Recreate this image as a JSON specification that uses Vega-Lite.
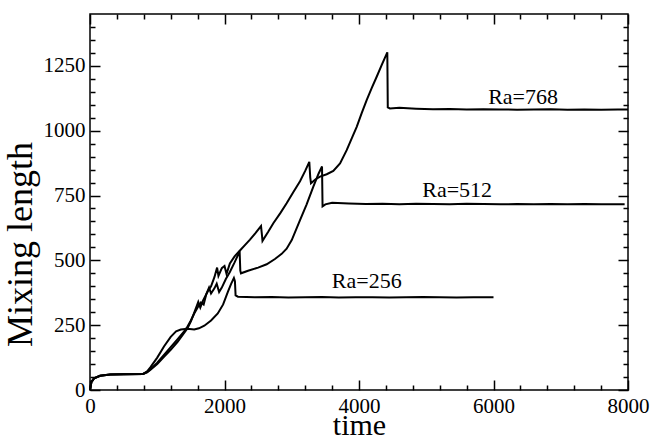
{
  "$schema": "https://vega.github.io/schema/vega-lite/v6.json",
  "width": 538,
  "height": 376,
  "autosize": "none",
  "padding": {"left": 90, "top": 14, "right": 23, "bottom": 49},
  "background": "white",
  "config": {
    "view": {"stroke": "black", "strokeWidth": 1.5},
    "font": "Liberation Serif",
    "text": {"font": "Liberation Serif"},
    "axis": {
      "grid": false, "domain": false, "tickColor": "black", "tickWidth": 1.5,
      "labelColor": "black", "titleColor": "black",
      "labelFont": "Liberation Serif", "titleFont": "Liberation Serif"
    }
  },
  "datasets": {
    "curves": [
      {"Ra": "256", "time": 0, "length": 0},
      {"Ra": "256", "time": 20, "length": 30},
      {"Ra": "256", "time": 60, "length": 45},
      {"Ra": "256", "time": 150, "length": 55},
      {"Ra": "256", "time": 300, "length": 60},
      {"Ra": "256", "time": 500, "length": 61},
      {"Ra": "256", "time": 790, "length": 62},
      {"Ra": "256", "time": 850, "length": 72},
      {"Ra": "256", "time": 900, "length": 88},
      {"Ra": "256", "time": 1000, "length": 125},
      {"Ra": "256", "time": 1100, "length": 168},
      {"Ra": "256", "time": 1200, "length": 205},
      {"Ra": "256", "time": 1280, "length": 226},
      {"Ra": "256", "time": 1350, "length": 233},
      {"Ra": "256", "time": 1450, "length": 236},
      {"Ra": "256", "time": 1550, "length": 233},
      {"Ra": "256", "time": 1620, "length": 238},
      {"Ra": "256", "time": 1700, "length": 248},
      {"Ra": "256", "time": 1800, "length": 268},
      {"Ra": "256", "time": 1900, "length": 295},
      {"Ra": "256", "time": 1980, "length": 330},
      {"Ra": "256", "time": 2050, "length": 378},
      {"Ra": "256", "time": 2100, "length": 410},
      {"Ra": "256", "time": 2140, "length": 432},
      {"Ra": "256", "time": 2155, "length": 420},
      {"Ra": "256", "time": 2165, "length": 365},
      {"Ra": "256", "time": 2200, "length": 360},
      {"Ra": "256", "time": 2450, "length": 358},
      {"Ra": "256", "time": 2700, "length": 359},
      {"Ra": "256", "time": 2950, "length": 357},
      {"Ra": "256", "time": 3200, "length": 358},
      {"Ra": "256", "time": 3450, "length": 359},
      {"Ra": "256", "time": 3700, "length": 357},
      {"Ra": "256", "time": 3950, "length": 358},
      {"Ra": "256", "time": 4200, "length": 358},
      {"Ra": "256", "time": 4450, "length": 357},
      {"Ra": "256", "time": 4700, "length": 358},
      {"Ra": "256", "time": 4950, "length": 359},
      {"Ra": "256", "time": 5200, "length": 358},
      {"Ra": "256", "time": 5450, "length": 357},
      {"Ra": "256", "time": 5700, "length": 358},
      {"Ra": "256", "time": 6000, "length": 358},

      {"Ra": "512", "time": 0, "length": 0},
      {"Ra": "512", "time": 20, "length": 30},
      {"Ra": "512", "time": 60, "length": 45},
      {"Ra": "512", "time": 150, "length": 55},
      {"Ra": "512", "time": 300, "length": 60},
      {"Ra": "512", "time": 500, "length": 61},
      {"Ra": "512", "time": 790, "length": 62},
      {"Ra": "512", "time": 850, "length": 70},
      {"Ra": "512", "time": 900, "length": 80},
      {"Ra": "512", "time": 1000, "length": 105},
      {"Ra": "512", "time": 1100, "length": 135},
      {"Ra": "512", "time": 1200, "length": 165},
      {"Ra": "512", "time": 1300, "length": 195},
      {"Ra": "512", "time": 1400, "length": 226},
      {"Ra": "512", "time": 1450, "length": 245},
      {"Ra": "512", "time": 1500, "length": 268},
      {"Ra": "512", "time": 1550, "length": 295},
      {"Ra": "512", "time": 1600, "length": 318},
      {"Ra": "512", "time": 1650, "length": 338},
      {"Ra": "512", "time": 1690, "length": 330},
      {"Ra": "512", "time": 1730, "length": 370},
      {"Ra": "512", "time": 1770, "length": 395},
      {"Ra": "512", "time": 1800, "length": 372},
      {"Ra": "512", "time": 1850, "length": 392},
      {"Ra": "512", "time": 1884, "length": 410},
      {"Ra": "512", "time": 1920, "length": 378},
      {"Ra": "512", "time": 1960, "length": 395},
      {"Ra": "512", "time": 2020, "length": 428},
      {"Ra": "512", "time": 2080, "length": 455},
      {"Ra": "512", "time": 2150, "length": 492},
      {"Ra": "512", "time": 2200, "length": 520},
      {"Ra": "512", "time": 2225, "length": 535},
      {"Ra": "512", "time": 2235, "length": 460},
      {"Ra": "512", "time": 2245, "length": 450},
      {"Ra": "512", "time": 2350, "length": 460},
      {"Ra": "512", "time": 2500, "length": 472},
      {"Ra": "512", "time": 2627, "length": 485},
      {"Ra": "512", "time": 2750, "length": 505},
      {"Ra": "512", "time": 2850, "length": 525},
      {"Ra": "512", "time": 2924, "length": 545},
      {"Ra": "512", "time": 3000, "length": 578},
      {"Ra": "512", "time": 3123, "length": 655},
      {"Ra": "512", "time": 3220, "length": 715},
      {"Ra": "512", "time": 3321, "length": 784},
      {"Ra": "512", "time": 3400, "length": 835},
      {"Ra": "512", "time": 3450, "length": 862},
      {"Ra": "512", "time": 3458, "length": 708},
      {"Ra": "512", "time": 3500, "length": 716},
      {"Ra": "512", "time": 3600, "length": 722},
      {"Ra": "512", "time": 3850, "length": 719},
      {"Ra": "512", "time": 4100, "length": 717},
      {"Ra": "512", "time": 4350, "length": 718},
      {"Ra": "512", "time": 4600, "length": 716},
      {"Ra": "512", "time": 4850, "length": 718},
      {"Ra": "512", "time": 5100, "length": 717},
      {"Ra": "512", "time": 5350, "length": 716},
      {"Ra": "512", "time": 5600, "length": 718},
      {"Ra": "512", "time": 5850, "length": 717},
      {"Ra": "512", "time": 6100, "length": 716},
      {"Ra": "512", "time": 6350, "length": 717},
      {"Ra": "512", "time": 6600, "length": 716},
      {"Ra": "512", "time": 6850, "length": 717},
      {"Ra": "512", "time": 7100, "length": 716},
      {"Ra": "512", "time": 7350, "length": 717},
      {"Ra": "512", "time": 7600, "length": 716},
      {"Ra": "512", "time": 7950, "length": 716},

      {"Ra": "768", "time": 0, "length": 0},
      {"Ra": "768", "time": 20, "length": 30},
      {"Ra": "768", "time": 60, "length": 45},
      {"Ra": "768", "time": 150, "length": 55},
      {"Ra": "768", "time": 300, "length": 60},
      {"Ra": "768", "time": 500, "length": 61},
      {"Ra": "768", "time": 790, "length": 62},
      {"Ra": "768", "time": 850, "length": 68},
      {"Ra": "768", "time": 900, "length": 78},
      {"Ra": "768", "time": 1000, "length": 100},
      {"Ra": "768", "time": 1100, "length": 128},
      {"Ra": "768", "time": 1200, "length": 155},
      {"Ra": "768", "time": 1300, "length": 185},
      {"Ra": "768", "time": 1400, "length": 220},
      {"Ra": "768", "time": 1450, "length": 238},
      {"Ra": "768", "time": 1500, "length": 265},
      {"Ra": "768", "time": 1560, "length": 305},
      {"Ra": "768", "time": 1610, "length": 340},
      {"Ra": "768", "time": 1640, "length": 318},
      {"Ra": "768", "time": 1680, "length": 345},
      {"Ra": "768", "time": 1750, "length": 380},
      {"Ra": "768", "time": 1800, "length": 400},
      {"Ra": "768", "time": 1850, "length": 435},
      {"Ra": "768", "time": 1890, "length": 472},
      {"Ra": "768", "time": 1910, "length": 440},
      {"Ra": "768", "time": 1960, "length": 470},
      {"Ra": "768", "time": 2000, "length": 478},
      {"Ra": "768", "time": 2030, "length": 448},
      {"Ra": "768", "time": 2080, "length": 488},
      {"Ra": "768", "time": 2150, "length": 515},
      {"Ra": "768", "time": 2230, "length": 538},
      {"Ra": "768", "time": 2300, "length": 558},
      {"Ra": "768", "time": 2379, "length": 580},
      {"Ra": "768", "time": 2460, "length": 605},
      {"Ra": "768", "time": 2543, "length": 632},
      {"Ra": "768", "time": 2556, "length": 600},
      {"Ra": "768", "time": 2565, "length": 575},
      {"Ra": "768", "time": 2650, "length": 610},
      {"Ra": "768", "time": 2726, "length": 643},
      {"Ra": "768", "time": 2830, "length": 682},
      {"Ra": "768", "time": 2924, "length": 720},
      {"Ra": "768", "time": 3020, "length": 762},
      {"Ra": "768", "time": 3123, "length": 805},
      {"Ra": "768", "time": 3200, "length": 845},
      {"Ra": "768", "time": 3261, "length": 880},
      {"Ra": "768", "time": 3275, "length": 820},
      {"Ra": "768", "time": 3286, "length": 797},
      {"Ra": "768", "time": 3350, "length": 812},
      {"Ra": "768", "time": 3420, "length": 823},
      {"Ra": "768", "time": 3520, "length": 832},
      {"Ra": "768", "time": 3618, "length": 845},
      {"Ra": "768", "time": 3718, "length": 874},
      {"Ra": "768", "time": 3817, "length": 925},
      {"Ra": "768", "time": 3900, "length": 975},
      {"Ra": "768", "time": 3966, "length": 1015},
      {"Ra": "768", "time": 4040, "length": 1068},
      {"Ra": "768", "time": 4114, "length": 1118},
      {"Ra": "768", "time": 4190, "length": 1165},
      {"Ra": "768", "time": 4263, "length": 1208},
      {"Ra": "768", "time": 4340, "length": 1255},
      {"Ra": "768", "time": 4421, "length": 1302},
      {"Ra": "768", "time": 4428, "length": 1090},
      {"Ra": "768", "time": 4460, "length": 1086},
      {"Ra": "768", "time": 4600, "length": 1088},
      {"Ra": "768", "time": 4850, "length": 1085},
      {"Ra": "768", "time": 5100, "length": 1083},
      {"Ra": "768", "time": 5350, "length": 1084},
      {"Ra": "768", "time": 5600, "length": 1082},
      {"Ra": "768", "time": 5850, "length": 1083},
      {"Ra": "768", "time": 6100, "length": 1082},
      {"Ra": "768", "time": 6350, "length": 1081},
      {"Ra": "768", "time": 6600, "length": 1082},
      {"Ra": "768", "time": 6850, "length": 1083},
      {"Ra": "768", "time": 7100, "length": 1081},
      {"Ra": "768", "time": 7350, "length": 1082},
      {"Ra": "768", "time": 7600, "length": 1081},
      {"Ra": "768", "time": 7850, "length": 1082},
      {"Ra": "768", "time": 8000, "length": 1082}
    ],
    "tags": [
      {"label": "Ra=768", "time": 6440, "length": 1103},
      {"label": "Ra=512", "time": 5460, "length": 745},
      {"label": "Ra=256", "time": 4115, "length": 392}
    ]
  },
  "resolve": {"axis": {"x": "independent", "y": "independent"}},
  "layer": [
    {
      "data": {"name": "curves"},
      "mark": {"type": "line", "color": "black", "strokeWidth": 2},
      "encoding": {
        "x": {
          "field": "time", "type": "quantitative",
          "scale": {"domain": [0, 8000], "nice": false, "zero": false},
          "axis": {
            "orient": "bottom", "values": [0, 2000, 4000, 6000, 8000], "ticks": false, "format": "d",
            "labelFont": "Liberation Serif", "labelFontSize": 21, "labelPadding": 5, "labelFlush": false,
            "title": "time", "titleFont": "Liberation Serif", "titleFontSize": 30, "titleFontWeight": "normal",
            "titleBaseline": "alphabetic", "titleY": 44
          }
        },
        "y": {
          "field": "length", "type": "quantitative",
          "scale": {"domain": [0, 1450], "nice": false, "zero": false},
          "axis": {
            "orient": "left", "values": [0, 250, 500, 750, 1000, 1250], "ticks": false, "format": "d",
            "labelFont": "Liberation Serif", "labelFontSize": 21, "labelPadding": 5, "labelFlush": false,
            "title": "Mixing length", "titleFont": "Liberation Serif", "titleFontSize": 36, "titleFontWeight": "normal",
            "titleBaseline": "alphabetic", "titleX": -59, "titleY": 230
          }
        },
        "detail": {"field": "Ra", "type": "nominal"}
      }
    },
    {
      "data": {"name": "tags"},
      "mark": {"type": "text", "color": "black", "font": "Liberation Serif", "fontSize": 22, "align": "center", "baseline": "alphabetic"},
      "encoding": {
        "x": {"field": "time", "type": "quantitative", "axis": null},
        "y": {"field": "length", "type": "quantitative", "axis": null},
        "text": {"field": "label"}
      }
    },
    {
      "data": {"name": "tags"},
      "mark": {"type": "point", "opacity": 0},
      "encoding": {
        "x": {"field": "time", "type": "quantitative",
          "axis": {"orient": "bottom", "values": [0, 2000, 4000, 6000, 8000], "tickSize": -10, "labels": false, "title": null}},
        "y": {"field": "length", "type": "quantitative",
          "axis": {"orient": "left", "values": [0, 250, 500, 750, 1000, 1250], "tickSize": -10, "labels": false, "title": null}}
      }
    },
    {
      "data": {"name": "tags"},
      "mark": {"type": "point", "opacity": 0},
      "encoding": {
        "x": {"field": "time", "type": "quantitative",
          "axis": {"orient": "bottom", "values": [400, 800, 1200, 1600, 2400, 2800, 3200, 3600, 4400, 4800, 5200, 5600, 6400, 6800, 7200, 7600], "tickSize": -5, "labels": false, "title": null}},
        "y": {"field": "length", "type": "quantitative",
          "axis": {"orient": "left", "values": [50, 100, 150, 200, 300, 350, 400, 450, 550, 600, 650, 700, 800, 850, 900, 950, 1050, 1100, 1150, 1200, 1300, 1350, 1400], "tickSize": -5, "labels": false, "title": null}}
      }
    },
    {
      "data": {"name": "tags"},
      "mark": {"type": "point", "opacity": 0},
      "encoding": {
        "x": {"field": "time", "type": "quantitative",
          "axis": {"orient": "top", "values": [0, 2000, 4000, 6000, 8000], "tickSize": -10, "labels": false, "title": null}},
        "y": {"field": "length", "type": "quantitative",
          "axis": {"orient": "right", "values": [0, 250, 500, 750, 1000, 1250], "tickSize": -10, "labels": false, "title": null}}
      }
    },
    {
      "data": {"name": "tags"},
      "mark": {"type": "point", "opacity": 0},
      "encoding": {
        "x": {"field": "time", "type": "quantitative",
          "axis": {"orient": "top", "values": [400, 800, 1200, 1600, 2400, 2800, 3200, 3600, 4400, 4800, 5200, 5600, 6400, 6800, 7200, 7600], "tickSize": -5, "labels": false, "title": null}},
        "y": {"field": "length", "type": "quantitative",
          "axis": {"orient": "right", "values": [50, 100, 150, 200, 300, 350, 400, 450, 550, 600, 650, 700, 800, 850, 900, 950, 1050, 1100, 1150, 1200, 1300, 1350, 1400], "tickSize": -5, "labels": false, "title": null}}
      }
    }
  ]
}
